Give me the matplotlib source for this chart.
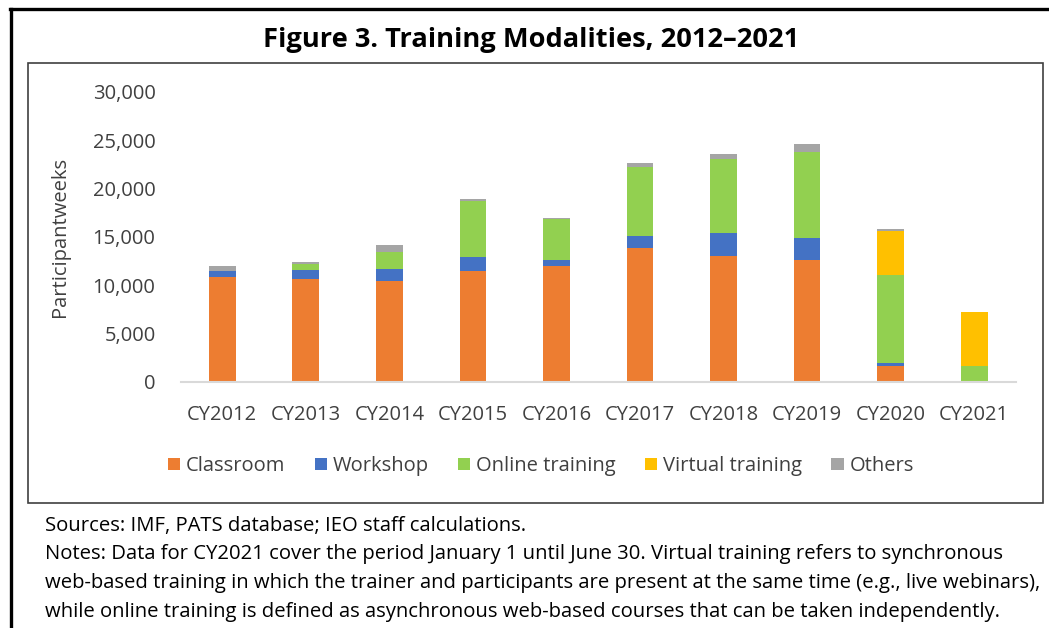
import numpy as np
import matplotlib
matplotlib.use("Agg")
from matplotlib import pyplot as plt
from matplotlib.patches import Rectangle
from matplotlib.lines import Line2D
from matplotlib.ticker import FuncFormatter

plt.rcParams['font.family'] = ['Open Sans', 'DejaVu Sans']

# Participant weeks by training modality
years = ["CY2012", "CY2013", "CY2014", "CY2015", "CY2016",
         "CY2017", "CY2018", "CY2019", "CY2020", "CY2021"]
classroom = [10800, 10620, 10380, 11450, 11970, 13830, 13030, 12620, 1620, 0]
workshop = [650, 970, 1310, 1450, 650, 1210, 2380, 2240, 280, 0]
online = [0, 580, 1760, 5760, 4180, 7140, 7590, 8930, 9100, 1620]
virtual = [0, 0, 0, 0, 0, 0, 0, 0, 4590, 5560]
others = [490, 210, 660, 240, 100, 410, 520, 800, 210, 0]

series_names = ["Classroom", "Workshop", "Online training", "Virtual training", "Others"]
series_colors = ["#ED7D31", "#4472C4", "#92D050", "#FFC000", "#A5A5A5"]

W, H = 1049, 628
fig = plt.figure(figsize=(W / 100, H / 100), dpi=100)

# axes placed in pixel terms of the reference
ax_left, ax_right, ax_top, ax_bottom = 180.5, 1016, 91.7, 381.7
ax = fig.add_axes([ax_left / W, 1 - ax_bottom / H,
                   (ax_right - ax_left) / W, (ax_bottom - ax_top) / H])

x = np.arange(len(years))
bottom = np.zeros(len(years))
for name, vals, col in zip(series_names, [classroom, workshop, online, virtual, others], series_colors):
    ax.bar(x, vals, width=0.32, bottom=bottom, color=col, label=name, zorder=2)
    bottom += np.array(vals)

ax.set_xlim(-0.5, len(years) - 0.5)
ax.set_ylim(0, 30000)
ax.set_yticks(np.arange(0, 30001, 5000))
ax.yaxis.set_major_formatter(FuncFormatter(lambda v, p: f"{int(v):,}"))
ax.set_xticks(x)
ax.set_xticklabels(years)
ax.tick_params(axis='both', length=0, labelsize=14.5, colors="#404040")
ax.tick_params(axis='y', pad=18)
ax.tick_params(axis='x', pad=17)
for s in ["top", "right", "left"]:
    ax.spines[s].set_visible(False)
ax.spines["bottom"].set_color("#D9D9D9")
ax.spines["bottom"].set_linewidth(1.5)

fig.text(60 / W, 1 - 237 / H, "Participantweeks", rotation=90, ha="center", va="center",
         fontsize=14.5, color="#404040")

fig.legend(loc="center", bbox_to_anchor=(541 / W, 1 - 466 / H), ncol=5, frameon=False,
           fontsize=14.5, handlelength=0.6, handleheight=0.6, handletextpad=0.3,
           columnspacing=1.45, labelcolor="#404040")

# title and notes
fig.text(531 / W, 1 - 40 / H, "Figure 3. Training Modalities, 2012\u20132021", ha="center", va="center",
         fontsize=19.6, fontweight="bold", color="black")

notes = [
    "Sources: IMF, PATS database; IEO staff calculations.",
    "Notes: Data for CY2021 cover the period January 1 until June 30. Virtual training refers to synchronous",
    "web-based training in which the trainer and participants are present at the same time (e.g., live webinars),",
    "while online training is defined as asynchronous web-based courses that can be taken independently.",
]
for i, line in enumerate(notes):
    fig.text(45 / W, 1 - (526 + i * 28.5) / H, line, ha="left", va="center", fontsize=14.6, color="black")

# frames
fig.add_artist(Line2D([9.5 / W, 1], [1 - 8.5 / H, 1 - 8.5 / H], color="black", lw=2.4))
fig.add_artist(Line2D([11 / W, 11 / W], [1 - 8.5 / H, 0], color="black", lw=2.4))
fig.add_artist(Rectangle((27.5 / W, 1 - 503 / H), (1043 - 27.5) / W, (503 - 62.5) / H,
                         fill=False, edgecolor="#404040", lw=1.2, transform=fig.transFigure))

fig.savefig("out.png", dpi=100)
